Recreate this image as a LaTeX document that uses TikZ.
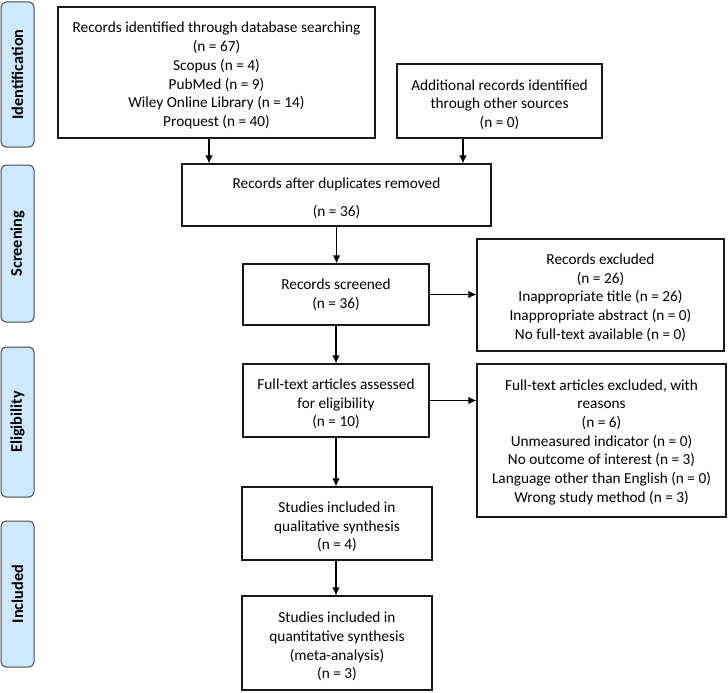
\documentclass[tikz,border=0pt]{standalone}
\usepackage{fontspec}
\setmainfont{Carlito}
\usetikzlibrary{arrows.meta}
\definecolor{sidefill}{RGB}{207,232,252}
\definecolor{sidedraw}{RGB}{70,70,70}
\definecolor{boxdraw}{RGB}{25,25,25}
\newcommand\lowtext[2]{\raisebox{-#1}[\height][\depth]{\begin{tabular}{@{}c@{}}#2\end{tabular}}}
\begin{document}
\begin{tikzpicture}[x=1pt,y=-1pt,
  box/.style={draw=boxdraw,line width=1.2pt,fill=white,inner sep=0pt,align=center,
    font=\fontsize{15.3}{18.7}\selectfont},
  side/.style={draw=sidedraw,line width=1pt,fill=sidefill,rounded corners=5pt,rotate=90,
    inner sep=0pt,minimum height=33pt,font=\fontsize{16.3}{19}\selectfont\bfseries},
  arr/.style={line width=1.2pt,draw=black,-{Latex[length=8pt,width=7.5pt]}}]
\useasboundingbox (0,0) rectangle (728,693);

% side labels
\node[side,minimum width=145pt] (sid) at (17.5,74.5) {Identification};
\node[side,minimum width=157pt] (ssc) at (17.5,243.5) {Screening};
\node[side,minimum width=150pt] (sel) at (17.5,422) {Eligibility};
\node[side,minimum width=146pt] (sin) at (17.5,594) {Included};

% boxes
\node[box,minimum width=317pt,minimum height=131pt] (b1) at (216.5,72.5)
  {\lowtext{3.5pt}{Records identified through database searching\\(n = 67)\\Scopus (n = 4)\\PubMed (n = 9)\\Wiley Online Library (n = 14)\\Proquest (n = 40)}};
\node[box,minimum width=205pt,minimum height=74pt] (b2) at (499.5,101)
  {\lowtext{4pt}{Additional records identified\\through other sources\\(n = 0)}};
\node[box,minimum width=309pt,minimum height=62pt] (b3) at (336.5,195)
  {\lowtext{4pt}{Records after duplicates removed\\[9pt](n = 36)}};
\node[box,minimum width=186pt,minimum height=61pt] (b4) at (336,294.5)
  {\lowtext{1pt}{Records screened\\(n = 36)}};
\node[box,minimum width=247pt,minimum height=112pt] (b5) at (600.5,295)
  {\lowtext{3pt}{Records excluded\\(n = 26)\\Inappropriate title (n = 26)\\Inappropriate abstract (n = 0)\\No full-text available (n = 0)}};
\node[box,minimum width=186pt,minimum height=73pt] (b6) at (336,400.5)
  {\lowtext{4pt}{Full-text articles assessed\\for eligibility\\(n = 10)}};
\node[box,minimum width=249pt,minimum height=153pt] (b7) at (601.5,440.5)
  {\lowtext{2pt}{Full-text articles excluded, with\\reasons\\(n = 6)\\Unmeasured indicator (n = 0)\\No outcome of interest (n = 3)\\Language other than English (n = 0)\\Wrong study method (n = 3)}};
\node[box,minimum width=190pt,minimum height=73pt] (b8) at (337,523.5)
  {\lowtext{4pt}{Studies included in\\qualitative synthesis\\(n = 4)}};
\node[box,minimum width=190pt,minimum height=94pt] (b9) at (337,643)
  {\lowtext{4pt}{Studies included in\\quantitative synthesis\\(meta-analysis)\\(n = 3)}};

% connectors
\draw[arr] ([xshift=-7.5pt]b1.south) -- ([xshift=-7.5pt]b1.south |- b3.north);
\draw[arr] ([xshift=-36.5pt]b2.south) -- ([xshift=-36.5pt]b2.south |- b3.north);
\draw[arr] (b3.south) -- (b3.south |- b4.north);
\draw[arr] (b4.east) -- (b4.east -| b5.west);
\draw[arr] (b4.south) -- (b4.south |- b6.north);
\draw[arr] (b6.east) -- (b6.east -| b7.west);
\draw[arr] (b6.south) -- (b6.south |- b8.north);
\draw[arr] ([xshift=-1pt]b8.south) -- ([xshift=-1pt]b8.south |- b9.north);
\end{tikzpicture}
\end{document}
